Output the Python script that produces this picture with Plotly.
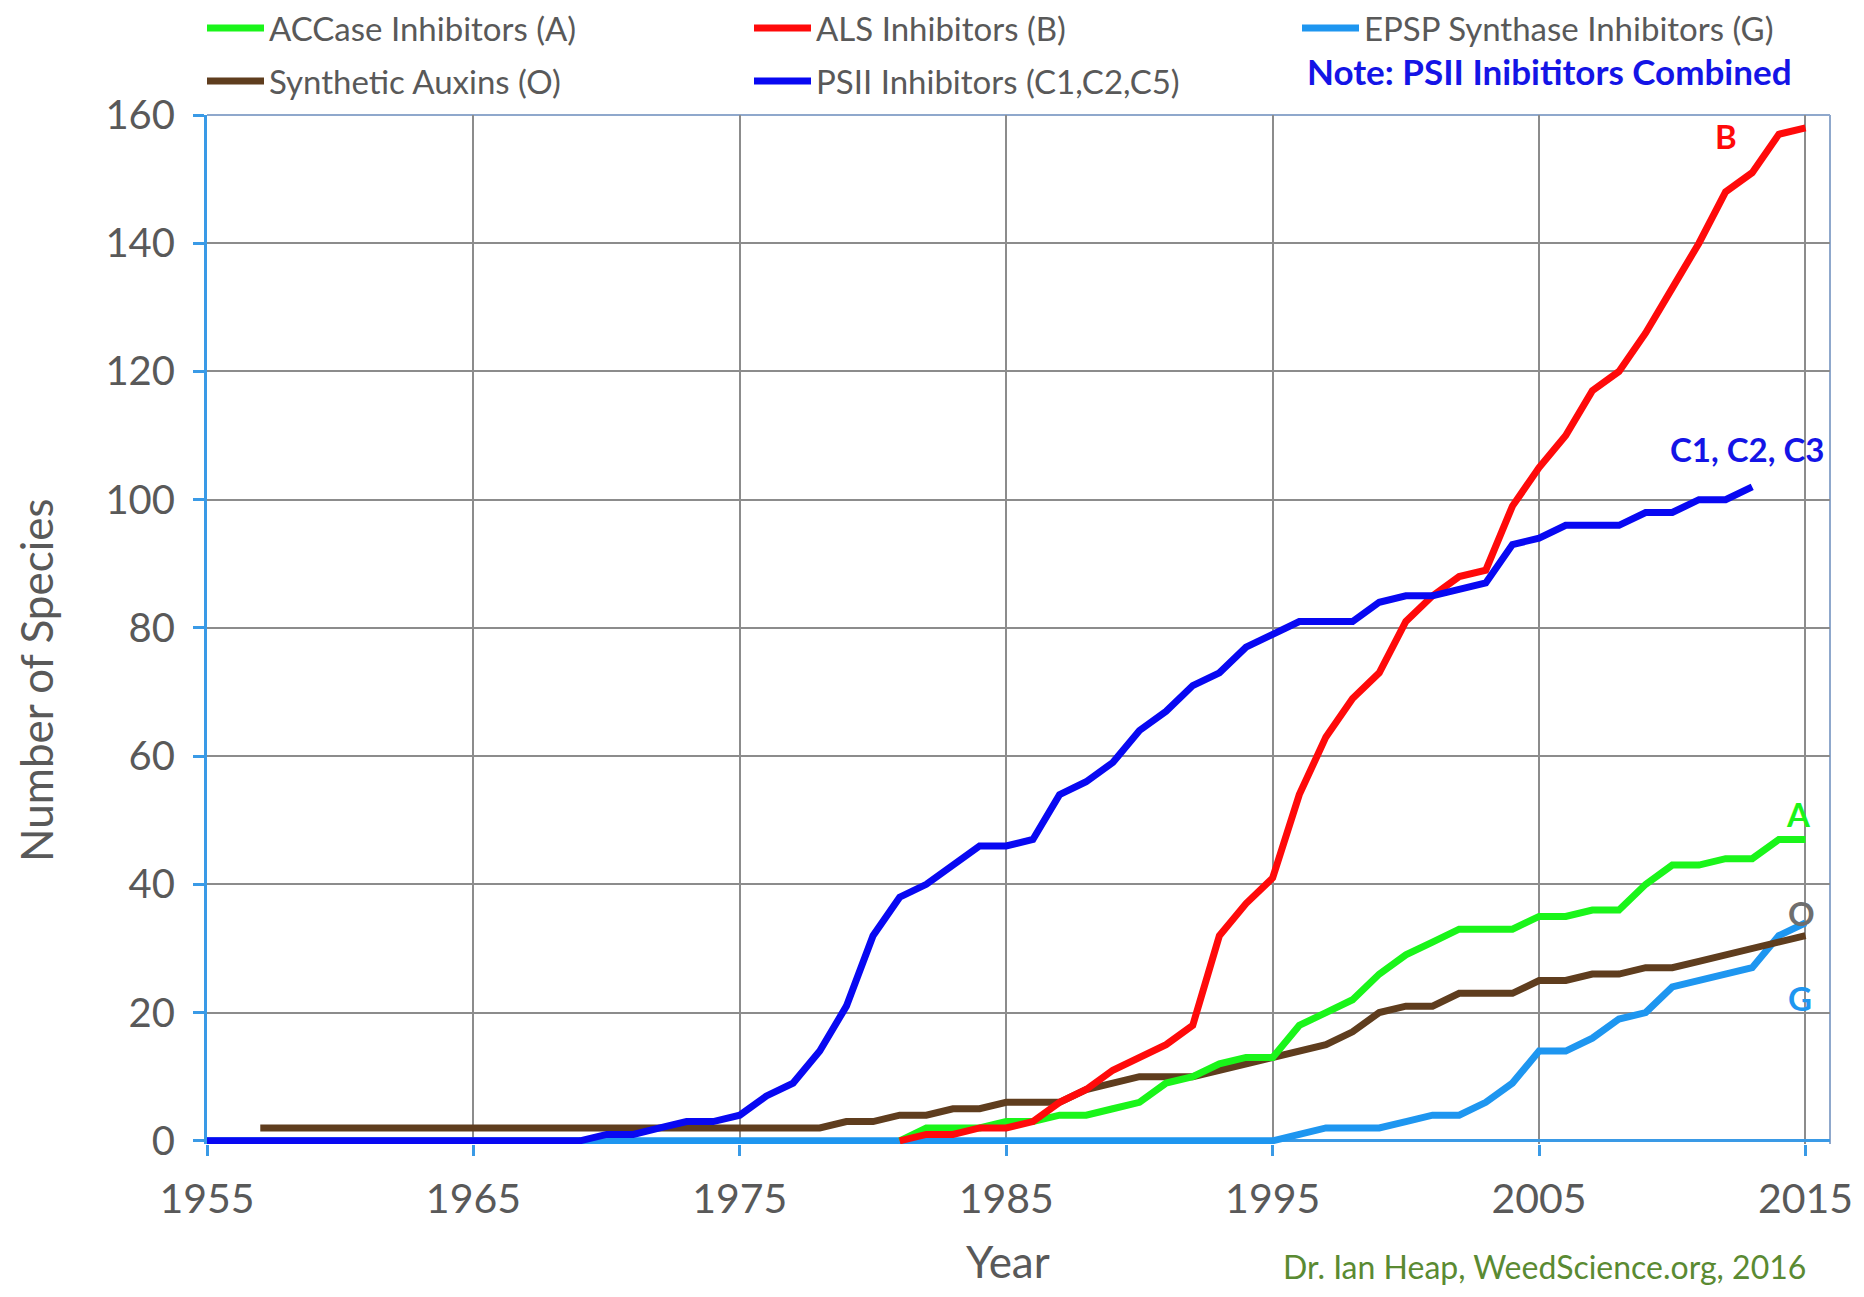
import plotly.graph_objects as go

# ---------------- data ----------------
years_A = list(range(1981, 2016))
accase_A = [0, 2, 2, 2, 3, 3, 4, 4, 5, 6, 9, 10, 12, 13, 13, 18, 20, 22, 26, 29,
            31, 33, 33, 33, 35, 35, 36, 36, 40, 43, 43, 44, 44, 47, 47]

years_B = list(range(1981, 2016))
als_B = [0, 1, 1, 2, 2, 3, 6, 8, 11, 13, 15, 18, 32, 37, 41, 54, 63, 69, 73, 81,
         85, 88, 89, 99, 105, 110, 117, 120, 126, 133, 140, 148, 151, 157, 158]

years_G = list(range(1955, 2016))
epsp_G = [0, 0, 0, 0, 0, 0, 0, 0, 0, 0,   # 1955-1964
          0, 0, 0, 0, 0, 0, 0, 0, 0, 0,   # 1965-1974
          0, 0, 0, 0, 0, 0, 0, 0, 0, 0,   # 1975-1984
          0, 0, 0, 0, 0, 0, 0, 0, 0, 0,   # 1985-1994
          0, 1, 2, 2, 2, 3, 4, 4, 6, 9,   # 1995-2004
          14, 14, 16, 19, 20, 24, 25, 26, 27, 32,  # 2005-2014
          34]                              # 2015

years_O = list(range(1957, 2016))
auxin_O = [2, 2, 2, 2, 2, 2, 2, 2, 2, 2, 2, 2, 2, 2, 2, 2, 2, 2, 2, 2, 2, 2,  # 1957-1978
           3, 3, 4, 4, 5, 5, 6, 6, 6, 8, 9, 10, 10, 10, 11, 12, 13, 14, 15, 17,
           20, 21, 21, 23, 23, 23, 25, 25, 26, 26, 27, 27, 28, 29, 30, 31, 32]

years_C = list(range(1955, 2014))
psii_C = [0, 0, 0, 0, 0, 0, 0, 0, 0, 0, 0, 0, 0, 0, 0,   # 1955-1969
          1, 1, 2, 3, 3, 4, 7, 9, 14, 21, 32, 38, 40, 43, 46, 46, 47, 54, 56, 59,
          64, 67, 71, 73, 77, 79, 81, 81, 81, 84, 85, 85, 86, 87, 93, 94, 96, 96,
          96, 98, 98, 100, 100, 102]

names = ["ACCase Inhibitors (A)", "ALS Inhibitors (B)", "EPSP Synthase Inhibitors (G)",
         "Synthetic Auxins (O)", "PSII Inhibitors (C1,C2,C5)"]

x_ticks = [1955, 1965, 1975, 1985, 1995, 2005, 2015]
y_ticks = [0, 20, 40, 60, 80, 100, 120, 140, 160]

# end-of-line labels
label_text = ["B", "C1, C2, C3", "A", "O", "G"]
label_x = [2012.0, 2012.8, 2014.75, 2014.85, 2014.8]
label_y = [156.7, 107.9, 51.0, 35.6, 22.2]

# ---------------- styling ----------------
GREEN = "#1AF51A"
RED = "#FF0A0A"
LBLUE = "#1E96F0"
BROWN = "#5F3D1E"
BLUE = "#0808F2"
label_colors = [RED, "#1414E6", GREEN, "#6E6E6E", LBLUE]

FONT = "Lato, 'Open Sans', sans-serif"
TXT = "#595959"
LW = 7

# page has an 8px body margin: size the figure so it fills the 1864x1297 window
OFF = 8
W, H = 1864 - 2 * OFF, 1297 - 2 * OFF
ML, MR, MT, MB = 207 - OFF, 26, 115 - OFF, 145
PW = W - ML - MR
PH = H - MT - MB


def pxx(p):  # page px -> paper x
    return (p - OFF - ML) / PW


def pxy(p):  # page px -> paper y
    return (H - MB - (p - OFF)) / PH


fig = go.Figure()

series = [
    (years_G, epsp_G, names[2], LBLUE, "legend4"),
    (years_O, auxin_O, names[3], BROWN, "legend5"),
    (years_A, accase_A, names[0], GREEN, "legend2"),
    (years_B, als_B, names[1], RED, "legend3"),
    (years_C, psii_C, names[4], BLUE, "legend6"),
]
for xs, ys, nm, col, lg in series:
    fig.add_trace(go.Scatter(x=xs, y=ys, name=nm, mode="lines",
                             line=dict(color=col, width=LW), legend=lg))

leg_pos = {  # (left px, centre y px) of each legend entry in the page
    "legend2": (202, 28), "legend3": (749, 28), "legend4": (1297, 28),
    "legend5": (202, 81), "legend6": (749, 81),
}
leg_common = dict(xref="container", yref="container", xanchor="left", yanchor="middle",
                  bgcolor="rgba(0,0,0,0)", borderwidth=0, itemwidth=57,
                  font=dict(family=FONT, size=33, color=TXT))
legends = {k: dict(x=(v[0] - OFF) / W, y=1 - (v[1] - OFF) / H, **leg_common)
           for k, v in leg_pos.items()}

annotations = []
for t, x, y, c in zip(label_text, label_x, label_y, label_colors):
    annotations.append(dict(x=x, y=y, xref="x", yref="y", text=f"<b>{t}</b>",
                            xanchor="center", yanchor="middle",
                            showarrow=False, font=dict(family=FONT, size=33, color=c)))
annotations += [
    dict(x=pxx(1549), y=pxy(71), xref="paper", yref="paper",
         xanchor="center", yanchor="middle",
         text="<b>Note: PSII Inibititors Combined</b>", showarrow=False,
         font=dict(family=FONT, size=35, color="#1414E6")),
    dict(x=pxx(36), y=pxy(680), xref="paper", yref="paper",
         xanchor="center", yanchor="middle",
         text="Number of Species", textangle=-90, showarrow=False,
         font=dict(family=FONT, size=44, color=TXT)),
    dict(x=pxx(1008), y=pxy(1261), xref="paper", yref="paper",
         xanchor="center", yanchor="middle",
         text="Year", showarrow=False, font=dict(family=FONT, size=44, color=TXT)),
    dict(x=pxx(1281), y=pxy(1288), xref="paper", yref="paper",
         xanchor="left", yanchor="bottom", text="Dr. Ian Heap, WeedScience.org, 2016",
         showarrow=False, font=dict(family=FONT, size=32, color="#5A8A32")),
]

BORDER = "#8FA8CC"
shapes = [
    dict(type="line", xref="paper", yref="paper", x0=0, x1=1, y0=1, y1=1,
         line=dict(color=BORDER, width=2), layer="below"),
    dict(type="line", xref="paper", yref="paper", x0=1, x1=1, y0=0, y1=1,
         line=dict(color=BORDER, width=2), layer="below"),
]

fig.update_layout(
    width=W, height=H,
    margin=dict(l=ML, r=MR, t=MT, b=MB, pad=0, autoexpand=False),
    paper_bgcolor="white", plot_bgcolor="white",
    font=dict(family=FONT, color=TXT),
    annotations=annotations, shapes=shapes,
    **legends,
)
fig.update_xaxes(range=[1955, 2015.92], tickvals=x_ticks, ticktext=[str(v) for v in x_ticks],
                 showgrid=True, gridcolor="#8C8C8C", gridwidth=2,
                 showline=False, zeroline=False, automargin=False,
                 ticks="outside", ticklen=11, tickwidth=3, tickcolor="#3A9AE6",
                 ticklabelstandoff=8,
                 tickfont=dict(family=FONT, size=41, color=TXT))
fig.update_yaxes(range=[-0.5, 160], tickvals=y_ticks,
                 showgrid=True, gridcolor="#8C8C8C", gridwidth=2,
                 showline=True, linecolor="#3A9AE6", linewidth=3,
                 zeroline=True, zerolinecolor="#3A9AE6", zerolinewidth=3,
                 automargin=False,
                 ticks="outside", ticklen=11, tickwidth=3, tickcolor="#3A9AE6",
                 ticklabelstandoff=10,
                 tickfont=dict(family=FONT, size=40, color=TXT))

fig.write_html("out.html")
